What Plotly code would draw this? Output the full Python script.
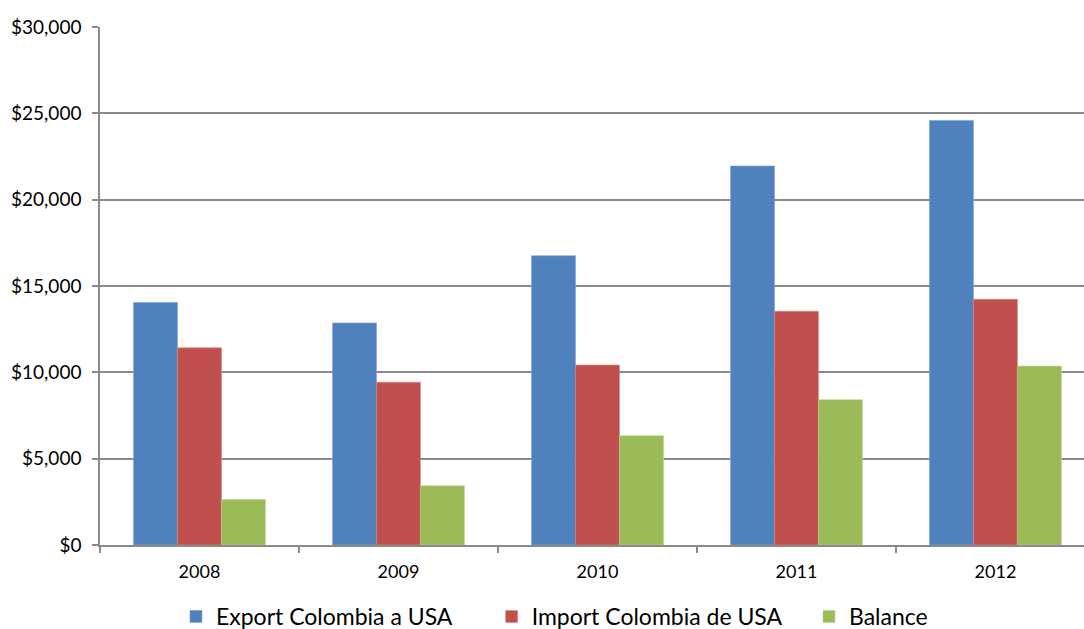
import plotly.graph_objects as go

# Trade between Colombia and the USA (millions of US$)
years = ["2008", "2009", "2010", "2011", "2012"]
exports = [14050, 12860, 16750, 21950, 24590]
imports = [11420, 9430, 10420, 13540, 14230]
balance = [2630, 3430, 6330, 8410, 10360]

series_names = ["Export Colombia a USA", "Import Colombia de USA", "Balance"]
series_colors = ["#4F81BD", "#C0504D", "#9BBB59"]
edge_colors = ["#7FA3D3", "#D88683", "#BBD48C"]

y_ticks = [0, 5000, 10000, 15000, 20000, 25000, 30000]
y_labels = ["$0", "$5,000", "$10,000", "$15,000", "$20,000", "$25,000", "$30,000"]

FONT = "Lato, 'Liberation Sans', sans-serif"
GRID = "#8A8A8A"

# one legend per series so each entry sits at its own spot along the bottom
legend_ids = ["legend", "legend2", "legend3"]
legend_x = [0.0772, 0.398, 0.7205]

fig = go.Figure()
for name, vals, col, edge, lg in zip(series_names, [exports, imports, balance],
                                     series_colors, edge_colors, legend_ids):
    fig.add_trace(go.Bar(
        x=years, y=vals, name=name, legend=lg,
        marker=dict(color=col, line=dict(color=edge, width=0.6)),
    ))

legend_style = dict(
    orientation="h", xref="paper", yref="paper",
    xanchor="left", y=-0.138, yanchor="middle",
    font=dict(size=23, family=FONT, color="#000000"),
    bgcolor="rgba(0,0,0,0)", itemclick=False, itemdoubleclick=False,
)

fig.update_layout(
    width=1084, height=629,
    margin=dict(l=100, r=0, t=26.5, b=83.5, autoexpand=False),
    paper_bgcolor="white", plot_bgcolor="white",
    barmode="group", bargap=0.337, bargroupgap=0,
    font=dict(family=FONT, color="#000000", size=18),
    showlegend=True,
    legend=dict(x=legend_x[0], **legend_style),
    legend2=dict(x=legend_x[1], **legend_style),
    legend3=dict(x=legend_x[2], **legend_style),
)

fig.update_xaxes(
    type="category", range=[-0.5, 4.445],
    showline=True, linecolor=GRID, linewidth=1.5,
    ticks="outside", tickson="boundaries", ticklen=6, tickcolor=GRID, tickwidth=1.5,
    ticklabelstandoff=10,
    tickfont=dict(size=18, family=FONT),
    showgrid=False,
)
fig.update_yaxes(
    range=[0, 30000], tickvals=y_ticks, ticktext=y_labels,
    showgrid=True, gridcolor=GRID, gridwidth=1.5,
    showline=True, linecolor=GRID, linewidth=1.5,
    ticks="outside", ticklen=6, tickcolor=GRID, tickwidth=1.5,
    ticklabelstandoff=7,
    tickfont=dict(size=19, family=FONT),
    zeroline=False,
)

fig.write_html("out.html")
